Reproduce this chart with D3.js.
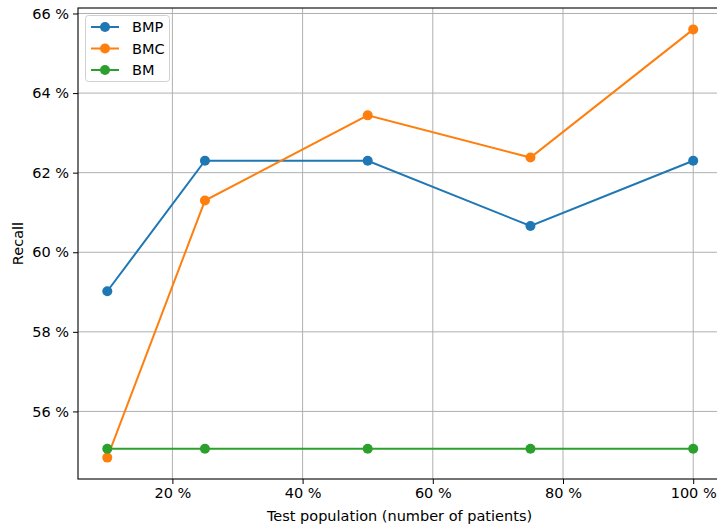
<!DOCTYPE html>
<html><head><meta charset="utf-8">
<script src="https://cdn.jsdelivr.net/npm/d3@7"></script>
<style>body{margin:0;background:#fff}svg{display:block;font-family:"DejaVu Sans",sans-serif}</style>
</head><body>
<svg id="c" width="717" height="529"></svg>
<script>
const xValues = [10, 25, 50, 75, 100];
const bmp = [59.02, 62.30, 62.30, 60.66, 62.30];
const bmc = [54.84, 61.30, 63.44, 62.38, 65.60];
const bm = [55.06, 55.06, 55.06, 55.06, 55.06];
const seriesNames = ["BMP", "BMC", "BM"];
const seriesColors = ["#1f77b4", "#ff7f0e", "#2ca02c"];
const xTicks = [20, 40, 60, 80, 100];
const yTicks = [56, 58, 60, 62, 64, 66];

const FS = 14.5;
const series = [bmp, bmc, bm];
const svg = d3.select("#c");
const L = 78, R = 722.5, T = 8, B = 479;
const x = d3.scaleLinear().domain([5.5, 104.5]).range([L, R]);
const y = d3.scaleLinear().domain([54.302, 66.138]).range([B, T]);

const g = svg.append("g");
g.selectAll(".gx").data(xTicks).join("line")
  .attr("x1", d => x(d)).attr("x2", d => x(d)).attr("y1", T).attr("y2", B)
  .attr("stroke", "#b0b0b0").attr("stroke-width", 1);
g.selectAll(".gy").data(yTicks).join("line")
  .attr("x1", L).attr("x2", R).attr("y1", d => y(d)).attr("y2", d => y(d))
  .attr("stroke", "#b0b0b0").attr("stroke-width", 1);

const xAxis = d3.axisBottom(x).tickValues(xTicks).tickFormat(d => d + " %").tickSize(5).tickPadding(4);
const yAxis = d3.axisLeft(y).tickValues(yTicks).tickFormat(d => d + " %").tickSize(5).tickPadding(4);
const gx = svg.append("g").attr("transform", `translate(0,${B})`).call(xAxis);
const gy = svg.append("g").attr("transform", `translate(${L},0)`).call(yAxis);
[gx, gy].forEach(a => {
  a.select(".domain").remove();
  a.selectAll("text").attr("font-size", FS).attr("fill", "#000").attr("font-family", "DejaVu Sans");
  a.selectAll("line").attr("stroke", "#000").attr("stroke-width", 1);
});
svg.append("rect").attr("x", L).attr("y", T).attr("width", R - L).attr("height", B - T)
  .attr("fill", "none").attr("stroke", "#000").attr("stroke-width", 1.1);

const line = d3.line().x((d, i) => x(xValues[i])).y(d => y(d));
series.forEach((s, k) => {
  svg.append("path").datum(s).attr("d", line).attr("fill", "none")
    .attr("stroke", seriesColors[k]).attr("stroke-width", 2);
  svg.selectAll(null).data(s).join("circle")
    .attr("cx", (d, i) => x(xValues[i])).attr("cy", d => y(d)).attr("r", 5)
    .attr("fill", seriesColors[k]);
});

svg.append("text").attr("x", (L + 717) / 2 + 2).attr("y", 521).attr("text-anchor", "middle")
  .attr("font-size", FS).text("Test population (number of patients)");
svg.append("text").attr("transform", `translate(23,${(T + B) / 2}) rotate(-90)`).attr("text-anchor", "middle")
  .attr("font-size", FS).text("Recall");

const lg = svg.append("g");
lg.append("rect").attr("x", 85.5).attr("y", 15.5).attr("width", 84).attr("height", 66).attr("rx", 3)
  .attr("fill", "#fff").attr("fill-opacity", 0.8).attr("stroke", "#d0d0d0");
seriesNames.forEach((n, k) => {
  const yy = 27 + k * 21.5;
  lg.append("line").attr("x1", 91).attr("x2", 119).attr("y1", yy).attr("y2", yy)
    .attr("stroke", seriesColors[k]).attr("stroke-width", 2);
  lg.append("circle").attr("cx", 105).attr("cy", yy).attr("r", 5).attr("fill", seriesColors[k]);
  lg.append("text").attr("x", 132).attr("y", yy + 5).attr("font-size", FS).text(n);
});
</script>
</body></html>
